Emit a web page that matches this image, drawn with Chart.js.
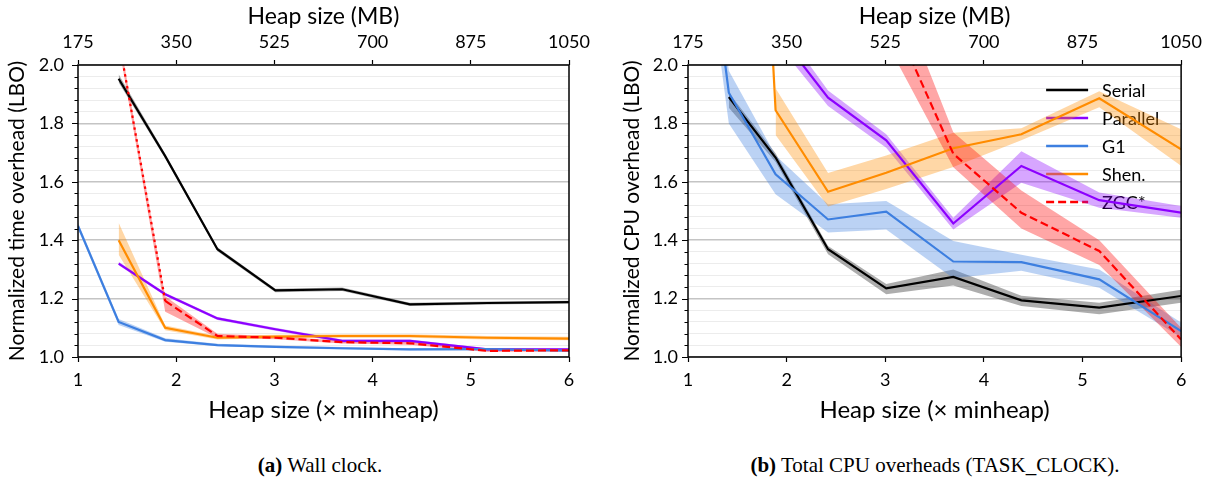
<!DOCTYPE html>
<html>
<head>
<meta charset="utf-8">
<script src="https://cdn.jsdelivr.net/npm/chart.js@4/dist/chart.umd.min.js"></script>
<style>
  body { margin: 0; background: #fff; width: 1209px; height: 482px; position: relative; overflow: hidden; }
  .panel { position: absolute; top: 0; height: 440px; }
  #wrapA { left: 0; width: 604px; }
  #wrapB { left: 604px; width: 605px; }
  .cap { position: absolute; top: 453px; font-family: "Liberation Serif", serif; font-size: 21px; white-space: nowrap; transform: translateX(-50%); }
</style>
</head>
<body>
<div class="panel" id="wrapA"><canvas id="wall" width="604" height="440"></canvas></div>
<div class="panel" id="wrapB"><canvas id="cpu" width="605" height="440"></canvas></div>
<div class="cap" style="left:320px"><b>(a)</b> Wall clock.</div>
<div class="cap" style="left:935px"><b>(b)</b> Total CPU overheads (TASK_CLOCK).</div>
<script>
// heap size as multiple of minheap (top axis is 175 MB * x)
const heapX = [1.0, 1.414, 1.888, 2.42, 3.01, 3.69, 4.38, 5.17, 6.0];
const xTicks = [1, 2, 3, 4, 5, 6];
const mbTicks = [175, 350, 525, 700, 875, 1050];

const collectors = ['Serial', 'Parallel', 'G1', 'Shen.', 'ZGC*'];
const colors = ['#000000', '#8c00ff', '#3d7fe0', '#ff8c00', '#ff0000'];
const bands = ['rgba(0,0,0,0.32)', 'rgba(140,0,255,0.35)', 'rgba(61,127,224,0.35)', 'rgba(255,140,0,0.35)', 'rgba(255,0,0,0.35)'];

// (a) wall clock
const wallSerial   = [null, 1.953, 1.688, 1.369, 1.228, 1.232, 1.180, 1.185, 1.188];
const wallSerialLo = [null, 1.940, 1.680, 1.362, 1.222, 1.226, 1.175, 1.180, 1.183];
const wallSerialHi = [null, 1.968, 1.696, 1.376, 1.234, 1.238, 1.186, 1.190, 1.193];
const wallParallel   = [null, 1.320, 1.215, 1.132, 1.095, 1.055, 1.055, 1.026, 1.026];
const wallParallelLo = [null, 1.314, 1.210, 1.127, 1.090, 1.050, 1.050, 1.022, 1.022];
const wallParallelHi = [null, 1.326, 1.220, 1.137, 1.100, 1.060, 1.060, 1.030, 1.030];
const wallG1   = [1.449, 1.120, 1.058, 1.041, 1.035, 1.030, 1.026, 1.027, 1.022];
const wallG1Lo = [1.438, 1.110, 1.052, 1.037, 1.031, 1.026, 1.022, 1.023, 1.018];
const wallG1Hi = [1.460, 1.130, 1.064, 1.045, 1.039, 1.034, 1.030, 1.031, 1.026];
const wallShen   = [null, 1.400, 1.100, 1.066, 1.070, 1.072, 1.072, 1.066, 1.063];
const wallShenLo = [null, 1.350, 1.092, 1.060, 1.064, 1.066, 1.066, 1.060, 1.057];
const wallShenHi = [null, 1.460, 1.108, 1.072, 1.076, 1.078, 1.078, 1.072, 1.069];
const wallZgc   = [null, 2.090, 1.192, 1.072, 1.066, 1.051, 1.047, 1.021, 1.023];
const wallZgcLo = [null, 2.070, 1.155, 1.065, 1.061, 1.046, 1.042, 1.017, 1.019];
const wallZgcHi = [null, 2.110, 1.208, 1.080, 1.071, 1.056, 1.052, 1.025, 1.027];

// (b) total CPU (TASK_CLOCK)
const cpuSerial   = [null, 1.890, 1.683, 1.369, 1.235, 1.274, 1.194, 1.169, 1.209];
const cpuSerialLo = [null, 1.854, 1.668, 1.352, 1.215, 1.245, 1.175, 1.146, 1.186];
const cpuSerialHi = [null, 1.905, 1.698, 1.380, 1.250, 1.300, 1.210, 1.186, 1.230];
const cpuParallel   = [null, 2.500, 2.120, 1.888, 1.742, 1.457, 1.654, 1.537, 1.494];
const cpuParallelLo = [null, null, 2.080, 1.860, 1.717, 1.437, 1.597, 1.511, 1.477];
const cpuParallelHi = [null, null, 2.160, 1.913, 1.763, 1.477, 1.705, 1.563, 1.517];
const cpuG1   = [3.000, 1.905, 1.626, 1.471, 1.498, 1.327, 1.325, 1.266, 1.089];
const cpuG1Lo = [2.850, 1.800, 1.557, 1.426, 1.437, 1.270, 1.295, 1.237, 1.067];
const cpuG1Hi = [3.150, 1.980, 1.690, 1.523, 1.534, 1.397, 1.350, 1.300, 1.118];
const cpuShen   = [null, 4.900, 1.845, 1.566, 1.631, 1.715, 1.763, 1.886, 1.711];
const cpuShenLo = [null, null, 1.760, 1.515, 1.575, 1.651, 1.742, 1.855, 1.655];
const cpuShenHi = [null, null, 1.920, 1.630, 1.690, 1.768, 1.783, 1.910, 1.780];
const cpuZgc   = [null, null, null, null, 2.210, 1.696, 1.494, 1.363, 1.060];
const cpuZgcLo = [null, null, null, null, 2.080, 1.650, 1.440, 1.315, 1.035];
const cpuZgcHi = [null, null, null, null, 2.350, 1.770, 1.570, 1.400, 1.100];

Chart.defaults.font.family = 'Lato';
Chart.defaults.color = '#000';

const yTicks = [];
for (let i = 0; i <= 25; i++) yTicks.push(+(1 + i * 0.04).toFixed(2));
const isMajor = v => Math.abs(v * 5 - Math.round(v * 5)) < 1e-6;

function pts(arr) {
  return heapX.map((x, i) => ({ x: x, y: arr[i] }));
}

function buildSets(series, dotted) {
  let sets = [];
  series.forEach((s, i) => {
    sets.push({
      data: pts(s.mean), borderColor: colors[i], borderWidth: 2.2, pointRadius: 0,
      fill: false, tension: 0, order: 5 - i,
      borderDash: i == 4 ? [8, 4] : [],
      segment: i == 4 && dotted ? { borderDash: c => c.p0DataIndex < 2 ? [2.5, 3.5] : [8, 4] } : undefined
    });
  });
  // bands: hi then lo, lo fills to hi
  series.forEach((s, i) => {
    sets.push({ data: pts(s.hi), borderWidth: 0, pointRadius: 0, fill: false, order: 20 - i });
    sets.push({ data: pts(s.lo), borderWidth: 0, pointRadius: 0, fill: '-1', backgroundColor: bands[i], order: 20 - i });
  });
  return sets;
}

const framePlugin = {
  id: 'frame',
  beforeDatasetsDraw(chart, args, opts) {
    if (!opts.legend) return;
    const ctx = chart.ctx, a = chart.chartArea;
    ctx.save();
    ctx.font = '18px Lato';
    ctx.textBaseline = 'middle';
    collectors.forEach((name, i) => {
      const y = a.top + 25 + i * 28;
      ctx.strokeStyle = colors[i];
      ctx.lineWidth = 2.5;
      ctx.setLineDash(i == 4 ? [8, 4] : []);
      ctx.beginPath();
      ctx.moveTo(a.right - 135, y);
      ctx.lineTo(a.right - 93, y);
      ctx.stroke();
      ctx.fillStyle = '#000';
      ctx.fillText(name, a.right - 79, y + 1);
    });
    ctx.restore();
  },
  afterDraw(chart) {
    const ctx = chart.ctx, a = chart.chartArea, ys = chart.scales.y;
    ctx.save();
    ctx.strokeStyle = '#000';
    ctx.lineWidth = 1;
    ys.ticks.forEach(t => {
      const py = Math.round(ys.getPixelForValue(t.value)) + 0.5;
      const len = isMajor(t.value) ? 6 : 3.5;
      ctx.beginPath();
      ctx.moveTo(a.left - len, py);
      ctx.lineTo(a.left, py);
      ctx.stroke();
    });
    ctx.lineWidth = 1.5;
    ctx.strokeRect(a.left, a.top, a.right - a.left, a.bottom - a.top);
    ctx.restore();
  }
};

function makeChart(id, series, opt) {
  new Chart(document.getElementById(id), {
    type: 'line',
    data: { datasets: buildSets(series, opt.dotted) },
    plugins: [framePlugin],
    options: {
      animation: false,
      responsive: false,
      devicePixelRatio: 1,
      layout: { padding: { left: 0, right: opt.padRight, top: 0, bottom: 0 } },
      plugins: { legend: { display: false }, tooltip: { enabled: false }, frame: { legend: opt.legend } },
      scales: {
        x: {
          type: 'linear', position: 'bottom', min: 1, max: 6,
          afterFit: s => { s.height = 83; },
          afterBuildTicks: s => { s.ticks = xTicks.map(v => ({ value: v })); },
          ticks: { autoSkip: false, font: { size: 18 }, padding: 7, maxRotation: 0, callback: v => String(v) },
          grid: { drawOnChartArea: false, tickLength: 5, tickColor: '#000', tickWidth: 1.2 },
          border: { display: false },
          title: { display: true, text: 'Heap size (× minheap)', font: { size: 24 }, padding: { top: 0, bottom: 15 } }
        },
        x2: {
          type: 'linear', position: 'top', min: 175, max: 1050,
          afterFit: s => { s.height = 65; },
          afterBuildTicks: s => { s.ticks = mbTicks.map(v => ({ value: v })); },
          ticks: { autoSkip: false, font: { size: 18 }, padding: 7, maxRotation: 0, callback: v => String(v) },
          grid: { drawOnChartArea: false, tickLength: 5, tickColor: '#000', tickWidth: 1.2 },
          border: { display: false },
          title: { display: true, text: 'Heap size (MB)', font: { size: 23 }, padding: { top: 3, bottom: 0 } }
        },
        y: {
          min: 1, max: 2,
          afterFit: s => { s.width = opt.yWidth; },
          afterBuildTicks: s => { s.ticks = yTicks.map(v => ({ value: v })); },
          ticks: { autoSkip: false, font: { size: 18 }, padding: opt.yPad, callback: v => isMajor(v) ? v.toFixed(1) : '' },
          grid: {
            drawTicks: false,
            color: c => isMajor(c.tick.value) ? '#c4c4c4' : '#ececec',
            lineWidth: c => isMajor(c.tick.value) ? 1.5 : 1
          },
          border: { display: false },
          title: { display: true, text: opt.yTitle, font: { size: 21 }, padding: { top: opt.yTitlePad, bottom: 0 } }
        }
      }
    }
  });
}

makeChart('wall', [
  { mean: wallSerial, lo: wallSerialLo, hi: wallSerialHi },
  { mean: wallParallel, lo: wallParallelLo, hi: wallParallelHi },
  { mean: wallG1, lo: wallG1Lo, hi: wallG1Hi },
  { mean: wallShen, lo: wallShenLo, hi: wallShenHi },
  { mean: wallZgc, lo: wallZgcLo, hi: wallZgcHi }
], { dotted: true, legend: false, padRight: 35, yWidth: 78, yPad: 14, yTitle: 'Normalized time overhead (LBO)', yTitlePad: 5 });

makeChart('cpu', [
  { mean: cpuSerial, lo: cpuSerialLo, hi: cpuSerialHi },
  { mean: cpuParallel, lo: cpuParallelLo, hi: cpuParallelHi },
  { mean: cpuG1, lo: cpuG1Lo, hi: cpuG1Hi },
  { mean: cpuShen, lo: cpuShenLo, hi: cpuShenHi },
  { mean: cpuZgc, lo: cpuZgcLo, hi: cpuZgcHi }
], { dotted: false, legend: true, padRight: 27, yWidth: 84, yPad: 10, yTitle: 'Normalized CPU overhead (LBO)', yTitlePad: 16 });
</script>
</body>
</html>
